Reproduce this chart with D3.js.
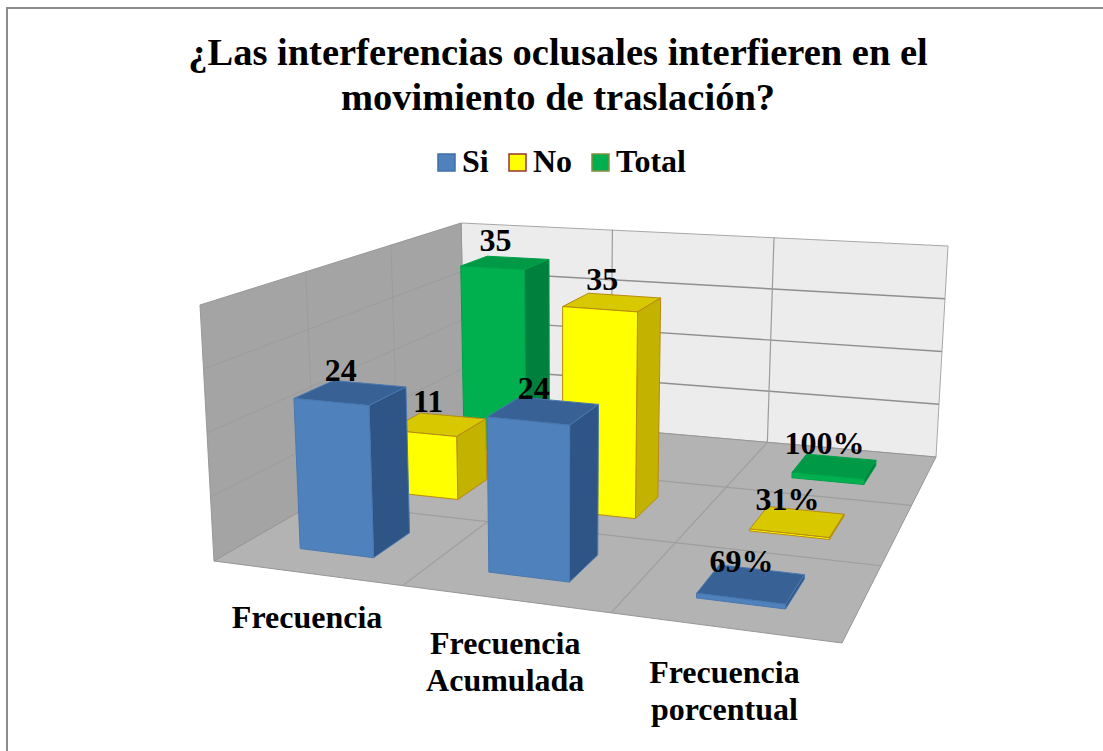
<!DOCTYPE html>
<html lang="es">
<head>
    <meta charset="UTF-8">
    <title>Interferencias oclusales</title>
    <style>
        body { margin: 0; background: #fff; }
        svg { display: block; }
        text { font-family: "Liberation Serif", serif; font-weight: bold; fill: #000; }
    </style>
</head>
<body>
    <div id="chart"></div>
    <script src="https://d3js.org/d3.v7.min.js"></script>
    <script>
        const categories = [["Frecuencia"], ["Frecuencia", "Acumulada"], ["Frecuencia", "porcentual"]];
        const seriesNames = ["Si", "No", "Total"];
        const siValues = [24, 24, 0.69];
        const noValues = [11, 35, 0.31];
        const totalValues = [35, null, 1];
        const valueTicks = [0, 10, 20, 30, 40];
        const titleLines = ["¿Las interferencias oclusales interfieren en el", "movimiento de traslación?"];

        const seriesValues = [siValues, noValues, totalValues];
        const colors = [
            {front: "#4f81bd", side: "#2f5585", top: "#376296", stroke: "#4a78b0", swatch: "#3f6fa8"},
            {front: "#ffff00", side: "#c4b200", top: "#d8c800", stroke: "#b88a10", swatch: "#943634"},
            {front: "#00b050", side: "#00803c", top: "#009a46", stroke: "#00a04a", swatch: "#7f8f3f"}
        ];

        const width = 1103, height = 751;

        // solves the 4 point perspective mapping
        function homography(src, dst) {
            const A = [];
            src.forEach((s, i) => {
                const [x, y] = s, [X, Y] = dst[i];
                A.push([x, y, 1, 0, 0, 0, -X * x, -X * y, X]);
                A.push([0, 0, 0, x, y, 1, -Y * x, -Y * y, Y]);
            });
            for (let c = 0; c < 8; c++) {
                let p = c;
                for (let r = c + 1; r < 8; r++) if (Math.abs(A[r][c]) > Math.abs(A[p][c])) p = r;
                [A[c], A[p]] = [A[p], A[c]];
                for (let r = 0; r < 8; r++) if (r !== c) {
                    const f = A[r][c] / A[c][c];
                    for (let k = c; k < 9; k++) A[r][k] -= f * A[c][k];
                }
            }
            const h = A.map((r, i) => r[8] / r[i]);
            return (x, y) => {
                const w = h[6] * x + h[7] * y + 1;
                return [(h[0] * x + h[1] * y + h[2]) / w, (h[3] * x + h[4] * y + h[5]) / w];
            };
        }

        // plot box: x and depth run 0..3, corners front-left, front-right, back-right, back-left
        const unit = [[0, 0], [3, 0], [3, 3], [0, 3]];
        const floorAt = homography(unit, [[214, 561], [842, 643], [936, 457], [465, 416]]);
        const ceilAt = homography(unit, [[200, 305], [853, 363], [948, 246], [458, 223]]);
        // verticals lean apart going up, by this many px at full height
        const lean = d3.scaleLinear().domain([214, 560, 936]).range([-14, 0, 12]);

        const x = d3.scaleBand().domain(d3.range(3)).range([0, 3]).paddingInner(0.6).paddingOuter(0.3);
        const z = d3.scaleBand().domain(d3.range(3)).range([0, 3]).paddingInner(0.6).paddingOuter(0.3);
        const y = d3.scaleLinear().domain([0, 40]).range([0, 1]);

        function project(u, w, v) {
            const a = floorAt(u, w), b = ceilAt(u, w), t = y(v);
            return [a[0] + lean(a[0]) * t, a[1] + (b[1] - a[1]) * t];
        }

        const line = d3.line();
        const closed = pts => line(pts) + "Z";

        const svg = d3.select("#chart").append("svg").attr("width", width).attr("height", height);

        const defs = svg.append("defs");
        defs.append("filter").attr("id", "soft").append("feGaussianBlur").attr("stdDeviation", 0.5);

        // frame, only left and top in the source
        svg.append("path")
            .attr("d", "M7,751V8H1103")
            .attr("fill", "none")
            .attr("stroke", "#8c8c8c")
            .attr("stroke-width", 2);

        const plot = svg.append("g").attr("filter", "url(#soft)");

        // walls and floor
        const maxV = y.domain()[1];
        plot.append("path").attr("fill", "#ececec").attr("stroke", "#a8a8a8")
            .attr("d", closed([project(0, 3, 0), project(3, 3, 0), project(3, 3, maxV), project(0, 3, maxV)]));
        plot.append("path").attr("fill", "#a4a4a4").attr("stroke", "#989898")
            .attr("d", closed([project(0, 0, 0), project(0, 3, 0), project(0, 3, maxV), project(0, 0, maxV)]));
        plot.append("path").attr("fill", "#b3b3b3").attr("stroke", "#969696")
            .attr("d", closed([project(0, 0, 0), project(3, 0, 0), project(3, 3, 0), project(0, 3, 0)]));

        // gridlines
        const gridLines = [];
        valueTicks.slice(1, -1).forEach(v => {
            gridLines.push({a: project(0, 3, v), b: project(3, 3, v), c: "#8f8f8f", w: 1.4});
            gridLines.push({a: project(0, 0, v), b: project(0, 3, v), c: "#9c9c9c", w: 1});
        });
        [1, 2].forEach(i => {
            gridLines.push({a: project(i, 3, 0), b: project(i, 3, maxV), c: "#9c9c9c", w: 1.2});
            gridLines.push({a: project(0, i, 0), b: project(0, i, maxV), c: "#9c9c9c", w: 1});
            gridLines.push({a: project(i, 0, 0), b: project(i, 3, 0), c: "#9e9e9e", w: 1.2});
            gridLines.push({a: project(0, i, 0), b: project(3, i, 0), c: "#9e9e9e", w: 1.2});
        });
        plot.selectAll(".grid").data(gridLines).join("line")
            .attr("class", "grid")
            .attr("x1", d => d.a[0]).attr("y1", d => d.a[1])
            .attr("x2", d => d.b[0]).attr("y2", d => d.b[1])
            .attr("stroke", d => d.c)
            .attr("stroke-width", d => d.w);

        // bars, back row first so nearer ones cover them
        const bars = [];
        d3.range(2, -1, -1).forEach(s => {
            categories.forEach((c, i) => {
                if (seriesValues[s][i] != null) bars.push({s, i, v: seriesValues[s][i]});
            });
        });

        const barG = plot.selectAll(".bar").data(bars).join("g").attr("class", "bar");
        barG.each(function (d) {
            const g = d3.select(this);
            const u0 = x(d.i), u1 = u0 + x.bandwidth();
            const w0 = z(d.s), w1 = w0 + z.bandwidth();
            const col = colors[d.s];
            const faces = [
                {fill: col.top, pts: [project(u0, w0, d.v), project(u1, w0, d.v), project(u1, w1, d.v), project(u0, w1, d.v)]},
                {fill: col.side, pts: [project(u1, w0, 0), project(u1, w1, 0), project(u1, w1, d.v), project(u1, w0, d.v)]},
                {fill: col.front, pts: [project(u0, w0, 0), project(u1, w0, 0), project(u1, w0, d.v), project(u0, w0, d.v)]}
            ];
            g.selectAll("path").data(faces).join("path")
                .attr("d", f => closed(f.pts))
                .attr("fill", f => f.fill)
                .attr("stroke", col.stroke)
                .attr("stroke-width", 1)
                .attr("stroke-linejoin", "round");
        });

        // data labels on top of all bars
        svg.selectAll(".value").data(bars).join("text")
            .attr("class", "value")
            .attr("text-anchor", "middle")
            .attr("font-size", 32)
            .attr("x", d => project(x(d.i) + x.bandwidth() / 2, z(d.s) + z.bandwidth() / 2, d.v)[0] - 10)
            .attr("y", d => project(x(d.i) + x.bandwidth() / 2, z(d.s) + z.bandwidth() / 2, d.v)[1] - 12)
            .text(d => d.i === 2 ? d3.format(".0%")(d.v) : d.v);

        // category labels under the front edge
        const catLabels = svg.selectAll(".cat").data(categories).join("text")
            .attr("class", "cat")
            .attr("text-anchor", "middle")
            .attr("font-size", 32);
        catLabels.each(function (lines, i) {
            const p = floorAt(i + 0.5, 0);
            d3.select(this).selectAll("tspan").data(lines).join("tspan")
                .attr("x", p[0] + 1)
                .attr("y", (l, k) => p[1] + 55 + k * 37)
                .text(l => l);
        });

        // title
        svg.selectAll(".title").data(titleLines).join("text")
            .attr("class", "title")
            .attr("text-anchor", "middle")
            .attr("font-size", 38.5)
            .attr("x", 558)
            .attr("y", (d, i) => 65 + i * 45)
            .text(d => d);

        // legend
        const legendX = d3.scaleOrdinal().domain(seriesNames).range([438, 509, 592]);
        const legend = svg.selectAll(".legend").data(seriesNames).join("g")
            .attr("class", "legend")
            .attr("transform", d => `translate(${legendX(d)},154)`);
        legend.append("rect")
            .attr("width", 17).attr("height", 17)
            .attr("fill", (d, i) => colors[i].front)
            .attr("stroke", (d, i) => colors[i].swatch)
            .attr("stroke-width", 1.5);
        legend.append("text")
            .attr("x", 24).attr("y", 18)
            .attr("font-size", 32)
            .text(d => d);
    </script>
</body>
</html>
